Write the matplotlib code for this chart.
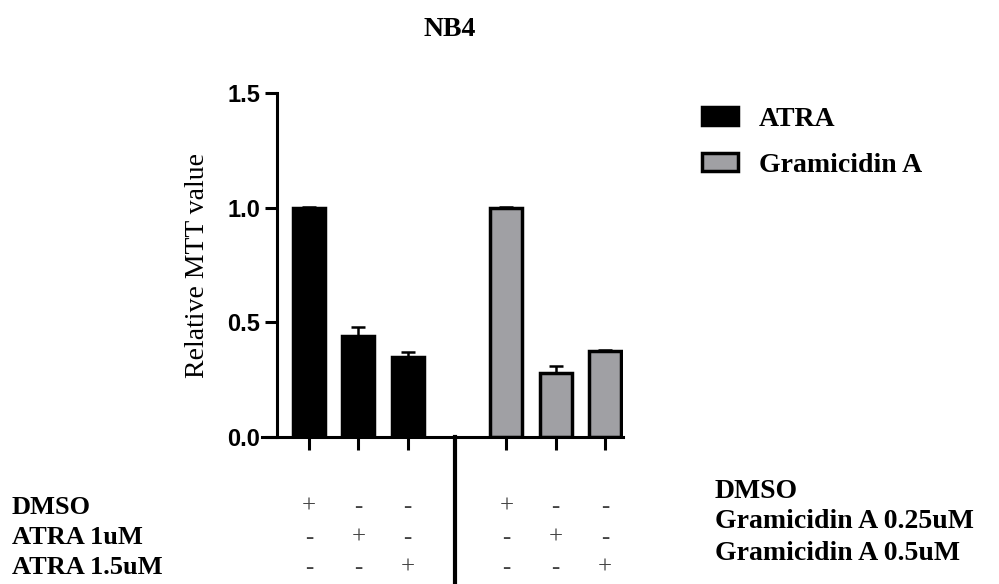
import matplotlib.pyplot as plt
from matplotlib.patches import Patch
import matplotlib.transforms as mtransforms

# data
x_pos = [0, 1, 2, 4, 5, 6]
values = [1.0, 0.44, 0.35, 1.0, 0.28, 0.375]
errors = [0.005, 0.04, 0.02, 0.005, 0.03, 0.004]
groups = ['ATRA', 'ATRA', 'ATRA', 'Gramicidin A', 'Gramicidin A', 'Gramicidin A']
colors = {'ATRA': '#000000', 'Gramicidin A': '#a0a0a4'}
left_rows = ['DMSO', 'ATRA 1uM', 'ATRA 1.5uM']
right_rows = ['DMSO', 'Gramicidin A 0.25uM', 'Gramicidin A 0.5uM']
signs = [['+', '-', '-', '+', '-', '-'],
         ['-', '+', '-', '-', '+', '-'],
         ['-', '-', '+', '-', '-', '+']]

serif = 'Liberation Serif'
sans = 'Liberation Sans'

fig = plt.figure(figsize=(9.99, 5.84), dpi=100)
W, H = 999, 584
ax = fig.add_axes([262 / W, (H - 437) / H, (623 - 262) / W, (437 - 93) / H])

for x, v, e, g in zip(x_pos, values, errors, groups):
    ax.bar(x, v, width=0.65, color=colors[g], edgecolor='black', linewidth=2.5, zorder=2)
    ax.errorbar(x, v, yerr=[[0], [e]], fmt='none', ecolor='black', elinewidth=1.8,
                capsize=5, capthick=1.8, zorder=3)

ax.set_xlim(-0.953, 6.365)
ax.set_ylim(0, 1.5)
ax.spines['top'].set_visible(False)
ax.spines['right'].set_visible(False)
ax.spines['left'].set_position(('data', -0.655))
ax.spines['left'].set_linewidth(2.2)
ax.spines['bottom'].set_linewidth(2.2)
ax.set_yticks([0, 0.5, 1.0, 1.5])
ax.set_yticklabels(['0.0', '0.5', '1.0', '1.5'], fontfamily=sans, fontweight='bold', fontsize=17)
ax.tick_params(axis='y', length=9, width=2.2, pad=3)
ax.set_xticks(x_pos)
ax.set_xticklabels([])
ax.tick_params(axis='x', length=9, width=2.2, direction='out')

fig.text(197 / W, (H - 265) / H, 'Relative MTT value', rotation=90, ha='center', va='center',
         fontfamily=serif, fontsize=20)

# separator line between groups
trans = mtransforms.blended_transform_factory(ax.transData, ax.transAxes)
ax.plot([2.95, 2.95], [0, -0.45], color='black', linewidth=3, transform=trans, clip_on=False)

# +/- table
row_y = [507, 538, 568]
trans_sign = mtransforms.blended_transform_factory(ax.transData, fig.transFigure)
for r, yy in enumerate(row_y):
    for x, s in zip(x_pos, signs[r]):
        ax.text(x, (H - yy) / H, s, transform=trans_sign, ha='center', va='center',
                fontfamily=serif, fontsize=18, color='#444444')
    fig.text(12 / W, (H - yy) / H, left_rows[r], ha='left', va='center',
             fontfamily=serif, fontweight='bold', fontsize=19)

for r, yy in enumerate([491, 522, 553]):
    fig.text(715 / W, (H - yy) / H, right_rows[r], ha='left', va='center',
             fontfamily=serif, fontweight='bold', fontsize=20)

fig.text(450 / W, (H - 30) / H, 'NB4', ha='center', va='center',
         fontfamily=serif, fontweight='bold', fontsize=20)

handles = [Patch(facecolor=colors['ATRA'], edgecolor='black', linewidth=2.5),
           Patch(facecolor=colors['Gramicidin A'], edgecolor='black', linewidth=2.5)]
fig.legend(handles, ['ATRA', 'Gramicidin A'], loc='upper left',
           bbox_to_anchor=(677 / W, (H - 82) / H), frameon=False,
           prop={'family': serif, 'weight': 'bold', 'size': 20},
           handlelength=1.3, handleheight=0.6, labelspacing=0.75, handletextpad=0.75)

fig.savefig('out.png', dpi=100)
